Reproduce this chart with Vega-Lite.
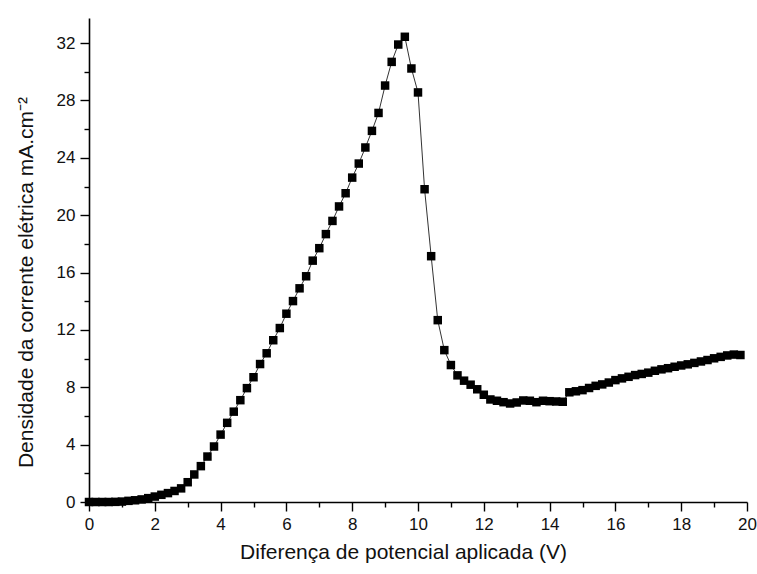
{
  "$schema": "https://vega.github.io/schema/vega-lite/v6.json",
  "width": 658,
  "height": 484,
  "autosize": {"type": "none"},
  "padding": {"left": 89, "top": 18, "right": 10, "bottom": 72},
  "background": "white",
  "config": {
    "view": {"stroke": null},
    "font": "Liberation Sans",
    "axis": {
      "domainColor": "black",
      "domainWidth": 1.6,
      "tickColor": "black",
      "tickWidth": 1.4,
      "grid": false,
      "labelFont": "Liberation Sans",
      "labelFontSize": 17,
      "labelColor": "#111",
      "titleFont": "Liberation Sans",
      "titleFontSize": 21,
      "titleFontWeight": "normal",
      "titleColor": "#111",
      "labelOverlap": false,
      "labelFlush": false
    }
  },
  "data": {
    "values": [
      {"v": 0.0, "j": 0.0}, {"v": 0.2, "j": 0.0}, {"v": 0.4, "j": 0.0}, {"v": 0.6, "j": 0.0},
      {"v": 0.8, "j": 0.01}, {"v": 1.0, "j": 0.03}, {"v": 1.2, "j": 0.08}, {"v": 1.4, "j": 0.12},
      {"v": 1.6, "j": 0.18}, {"v": 1.8, "j": 0.27}, {"v": 2.0, "j": 0.38}, {"v": 2.2, "j": 0.5},
      {"v": 2.4, "j": 0.62}, {"v": 2.6, "j": 0.77}, {"v": 2.8, "j": 0.95}, {"v": 3.0, "j": 1.38},
      {"v": 3.2, "j": 1.92}, {"v": 3.4, "j": 2.5}, {"v": 3.6, "j": 3.17}, {"v": 3.8, "j": 3.87},
      {"v": 4.0, "j": 4.7}, {"v": 4.2, "j": 5.52}, {"v": 4.4, "j": 6.3}, {"v": 4.6, "j": 7.1},
      {"v": 4.8, "j": 7.94}, {"v": 5.0, "j": 8.7}, {"v": 5.2, "j": 9.62}, {"v": 5.4, "j": 10.37},
      {"v": 5.6, "j": 11.28}, {"v": 5.8, "j": 12.13}, {"v": 6.0, "j": 13.13}, {"v": 6.2, "j": 14.01},
      {"v": 6.4, "j": 14.9}, {"v": 6.6, "j": 15.74}, {"v": 6.8, "j": 16.83}, {"v": 7.0, "j": 17.7},
      {"v": 7.2, "j": 18.68}, {"v": 7.4, "j": 19.6}, {"v": 7.6, "j": 20.61}, {"v": 7.8, "j": 21.53},
      {"v": 8.0, "j": 22.62}, {"v": 8.2, "j": 23.6}, {"v": 8.4, "j": 24.72}, {"v": 8.6, "j": 25.88},
      {"v": 8.8, "j": 27.13}, {"v": 9.0, "j": 29.04}, {"v": 9.2, "j": 30.69}, {"v": 9.4, "j": 31.9},
      {"v": 9.6, "j": 32.44}, {"v": 9.8, "j": 30.23}, {"v": 10.0, "j": 28.56}, {"v": 10.2, "j": 21.81},
      {"v": 10.4, "j": 17.14}, {"v": 10.6, "j": 12.68}, {"v": 10.8, "j": 10.59}, {"v": 11.0, "j": 9.55},
      {"v": 11.2, "j": 8.83}, {"v": 11.4, "j": 8.46}, {"v": 11.6, "j": 8.18}, {"v": 11.8, "j": 7.86},
      {"v": 12.0, "j": 7.48}, {"v": 12.2, "j": 7.15}, {"v": 12.4, "j": 7.06}, {"v": 12.6, "j": 6.96},
      {"v": 12.8, "j": 6.87}, {"v": 13.0, "j": 6.94}, {"v": 13.2, "j": 7.08}, {"v": 13.4, "j": 7.06},
      {"v": 13.6, "j": 6.96}, {"v": 13.8, "j": 7.06}, {"v": 14.0, "j": 7.03}, {"v": 14.2, "j": 7.01},
      {"v": 14.4, "j": 6.99}, {"v": 14.6, "j": 7.65}, {"v": 14.8, "j": 7.72}, {"v": 15.0, "j": 7.8},
      {"v": 15.2, "j": 7.95}, {"v": 15.4, "j": 8.1}, {"v": 15.6, "j": 8.2}, {"v": 15.8, "j": 8.33},
      {"v": 16.0, "j": 8.5}, {"v": 16.2, "j": 8.62}, {"v": 16.4, "j": 8.73}, {"v": 16.6, "j": 8.85},
      {"v": 16.8, "j": 8.93}, {"v": 17.0, "j": 9.02}, {"v": 17.2, "j": 9.15}, {"v": 17.4, "j": 9.25},
      {"v": 17.6, "j": 9.33}, {"v": 17.8, "j": 9.43}, {"v": 18.0, "j": 9.52}, {"v": 18.2, "j": 9.6},
      {"v": 18.4, "j": 9.7}, {"v": 18.6, "j": 9.8}, {"v": 18.8, "j": 9.9}, {"v": 19.0, "j": 10.02},
      {"v": 19.2, "j": 10.12}, {"v": 19.4, "j": 10.22}, {"v": 19.6, "j": 10.28}, {"v": 19.8, "j": 10.25}
    ]
  },
  "encoding": {
    "x": {
      "field": "v",
      "type": "quantitative",
      "scale": {"domain": [0, 20], "nice": false, "zero": false},
      "axis": {
        "title": "Diferença de potencial aplicada (V)",
        "values": [0,1,2,3,4,5,6,7,8,9,10,11,12,13,14,15,16,17,18,19,20],
        "labelExpr": "datum.value % 2 === 0 ? datum.label : ''",
        "tickSize": {"condition": {"test": "datum.value % 2 === 0", "value": 9}, "value": 5},
        "labelPadding": 5,
        "titlePadding": 9,
        "titleX": 314
      }
    },
    "y": {
      "field": "j",
      "type": "quantitative",
      "scale": {"domain": [0, 33.75], "nice": false, "zero": false},
      "axis": {
        "title": "Densidade da corrente elétrica mA.cm⁻²",
        "values": [0,2,4,6,8,10,12,14,16,18,20,22,24,26,28,30,32],
        "labelExpr": "datum.value % 4 === 0 ? datum.label : ''",
        "tickSize": {"condition": {"test": "datum.value % 4 === 0", "value": 9}, "value": 5},
        "labelPadding": 5,
        "titleX": -53,
        "titleY": 264
      }
    }
  },
  "layer": [
    {"mark": {"type": "line", "color": "#333", "strokeWidth": 1}},
    {"mark": {"type": "point", "shape": "square", "filled": true, "color": "black", "opacity": 1, "size": 72}}
  ]
}
